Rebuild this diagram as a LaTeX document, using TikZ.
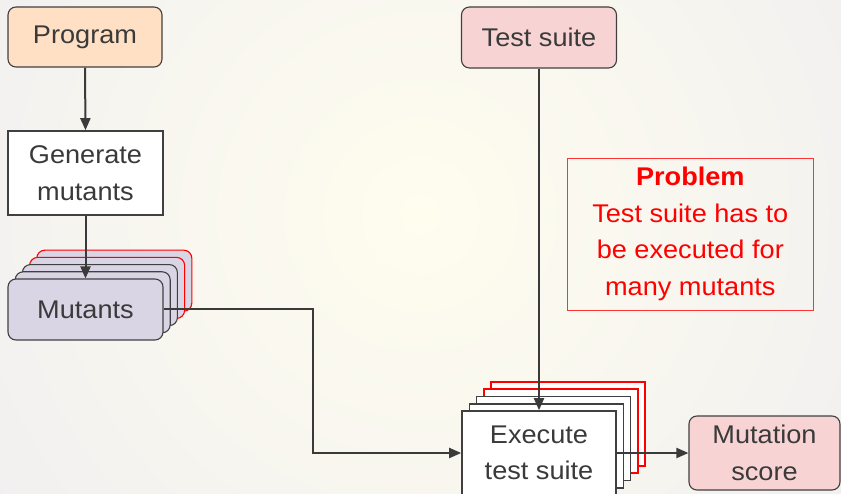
\documentclass[tikz,border=0pt]{standalone}
\usepackage{fontspec}
\setmainfont{Liberation Sans}[FakeStretch=1.06]
\usetikzlibrary{arrows.meta}
\definecolor{ink}{HTML}{3A3A3A}
\definecolor{edge}{HTML}{404040}
\definecolor{peach}{HTML}{FFE0C4}
\definecolor{pinkbox}{HTML}{F8D3D3}
\definecolor{lav}{HTML}{D9D5E5}
\definecolor{bginner}{HTML}{FFFDEE}
\definecolor{bgouter}{HTML}{EBEAF1}
\definecolor{probred}{HTML}{FF0000}
\tikzset{
  base/.style={draw=edge, line width=1.1pt, text=ink, align=center, inner sep=0pt,
    font=\fontsize{25.6}{36.5}\selectfont},
  roundbox/.style={base, rounded corners=8pt},
  sqbox/.style={base, fill=white, line width=1.6pt},
  layergray/.style={draw=edge},
  layerred/.style={draw=red},
  conn/.style={draw=ink, line width=2pt, -{Triangle[length=12pt,width=10pt]}},
}
\begin{document}
\begin{tikzpicture}[x=1pt,y=-1pt]
\useasboundingbox (0,0) rectangle (841,494);
\begin{scope}
\clip (0,0) rectangle (841,494);
\shade[inner color=bginner, outer color=bgouter] (420,215) circle (740);
\end{scope}

% Program
\node[roundbox, fill=peach, minimum width=154pt, minimum height=60pt] (prog) at (85,37) {Program};
% Generate mutants
\node[sqbox, minimum width=155pt, minimum height=84pt] (gen) at (85.5,173) {Generate\\mutants};

% Mutants stack
\foreach \k/\st in {4/layerred,3/layerred,2/layergray,1/layergray}{
  \node[roundbox, fill=lav, \st, minimum width=155pt, minimum height=61pt] (mut\k) at (85.5+7.2*\k,309.5-7.2*\k) {};
}
\node[roundbox, fill=lav, minimum width=155pt, minimum height=61pt] (mut) at (85.5,309.5) {Mutants};

% Test suite
\node[roundbox, fill=pinkbox, minimum width=155pt, minimum height=61pt] (ts) at (539,37.5) {Test suite};

% Execute stack
\foreach \k/\st in {4/layerred,3/layerred,2/layergray,1/layergray}{
  \node[sqbox, \st, minimum width=154pt, minimum height=84pt] (exe\k) at (539+7.3*\k,453-7.3*\k) {};
}
\node[sqbox, minimum width=154pt, minimum height=84pt] (exe) at (539,453) {Execute\\test suite};

% Mutation score
\node[roundbox, fill=pinkbox, minimum width=151pt, minimum height=74pt] (ms) at (764.5,453) {Mutation\\score};

% Problem box
\node[draw=red!80, line width=0.9pt, text=probred, align=center, inner sep=0pt,
  font=\fontsize{25.6}{36.5}\selectfont, minimum width=246pt, minimum height=152pt]
  (prob) at (690.3,234) {\textbf{Problem}\\Test suite has to\\be executed for\\many mutants};

% connectors
\draw[conn] (prog.south) -- (gen.north);
\draw[conn] (gen.south) -- (mut.north);
\draw[conn] (ts.south) -- (exe.north);
\draw[conn] (mut.east) -- ++(149,0) |- (exe.west);
\draw[conn] (exe.east) -- (ms.west);
\end{tikzpicture}
\end{document}
